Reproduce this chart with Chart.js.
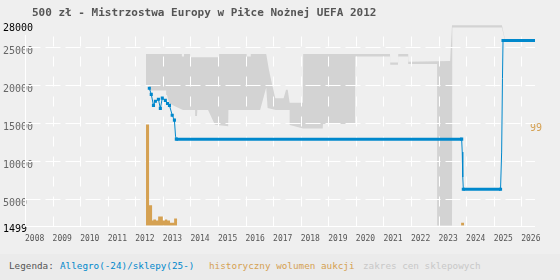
<!DOCTYPE html>
<html><head><meta charset="utf-8">
<script src="https://cdn.jsdelivr.net/npm/chart.js@4.4.1/dist/chart.umd.min.js"></script>
<style>
html,body{margin:0;padding:0;background:#efefef;width:560px;height:280px;overflow:hidden;}
#c{position:absolute;left:0;top:0;}
#title{position:absolute;left:32px;top:6px;font:bold 11px "DejaVu Sans Mono",monospace;color:#555;white-space:pre;}
#legend{position:absolute;left:0;top:254px;width:560px;height:26px;background:#ebebeb;font:9.3px "DejaVu Sans Mono",monospace;white-space:pre;}
#legend span{position:absolute;top:6px;}
</style></head><body>
<canvas id="c" width="560" height="280"></canvas>
<div id="title">500 zł - Mistrzostwa Europy w Piłce Nożnej UEFA 2012</div>
<div id="legend"><span style="left:9px;color:#555">Legenda:</span><span style="left:60px;color:#0088cc">Allegro(-24)/sklepy(25-)</span><span style="left:209px;color:#d5a152">historyczny wolumen aukcji</span><span style="left:363px;color:#c8c8c8">zakres cen sklepowych</span></div>
<script>
// ---- data ----
const xTickYears = [2008,2009,2010,2011,2012,2013,2014,2015,2016,2017,2018,2019,2020,2021,2022,2023,2024,2025,2026];
const yTicks = [1499,5000,10000,15000,20000,25000,28000];
const volumeTicks = [99];

const priceYears  = [2012.51,2012.58,2012.66,2012.73,2012.84,2012.91,2012.98,2013.09,2013.17,2013.24,2013.34,2013.42,2013.46,2013.49,2023.84,2023.86,2023.88,2023.90,2025.25,2025.29,2025.32,2025.34,2026.45];
const priceValues = [19600,18800,17350,17900,18150,16950,18300,18000,17600,17350,16050,15400,13300,12900,12900,11200,7900,6300,6300,11200,20900,25900,25900];

const volumeYears  = [2012.39,2012.50,2012.61,2012.655,2012.75,2012.83,2013.00,2013.08,2013.16,2013.26,2013.41,2013.515,2023.82,2023.93];
const volumeValues = [99,20,5,6,5,9,5,6,5,3,7,0,3,0];

const rangeMaxYears  = [2012.39,2013.69,2013.69,2013.77,2013.77,2013.99,2013.99,2015.04,2015.04,2016.04,2016.04,2016.19,2016.19,2016.75,2016.85,2016.97,2017.08,2017.38,2017.47,2017.53,2017.60,2018.08,2018.09,2021.24,2021.25,2021.53,2021.54,2021.90,2021.91,2023.42,2023.49,2025.30,2025.42];
const rangeMaxValues = [24100,24100,23800,23800,24100,24100,23700,23700,24100,24100,23800,23800,24100,24100,22000,20000,18300,18300,19400,19400,17700,17700,24100,24100,23000,23000,24100,24100,23100,23200,27900,27900,25900];
const rangeMinYears  = [2012.39,2012.50,2012.50,2013.12,2013.15,2013.20,2013.26,2013.40,2013.73,2014.17,2014.17,2014.24,2014.25,2014.64,2014.89,2015.37,2015.38,2016.53,2016.75,2016.80,2017.10,2017.60,2017.61,2017.98,2018.09,2018.80,2018.81,2019.97,2019.98,2021.24,2021.25,2021.53,2021.54,2021.90,2021.91,2022.95,2022.95,2023.49,2023.50,2025.30,2025.42];
const rangeMinValues = [19900,19900,19300,19300,18700,18000,17600,17300,16750,16750,15950,15950,16750,16750,14800,14600,16750,16750,19700,17000,16750,16750,14750,14400,14300,14300,14900,14900,23800,23800,22700,22700,23800,23800,22800,22800,1499,1499,27600,27600,25700];

// ---- build ----
const BLUE = '#0088cc', ORANGE = '#d5a152', GRAY = '#d3d3d3';
const pricePts = priceYears.map((x,i)=>({x, y: priceValues[i]}));
const volumePts = volumeYears.map((x,i)=>({x, y: volumeValues[i]}));
const rangeShape = rangeMaxYears.map((x,i)=>({x, y: rangeMaxValues[i]}))
  .concat(rangeMinYears.map((x,i)=>({x, y: rangeMinValues[i]})).reverse());

const MONO = '"DejaVu Sans Mono", monospace';

const gridPlugin = {
  id: 'dashGrid',
  afterDatasetDraw(chart, args) {
    if (args.index !== 2) return;
    const {ctx, chartArea: a, scales: {x, y}} = chart;
    const bottom = Math.round(y.getPixelForValue(1499)) + 0.5;
    const left = Math.round(x.getPixelForValue(2008)) + 0.5;
    const right = Math.round(a.right);
    ctx.save();
    ctx.strokeStyle = '#ffffff';
    ctx.lineWidth = 1;
    ctx.setLineDash([10,10]);
    x.ticks.forEach(t => {
      if (t.value === 2008) return;
      const px = Math.round(x.getPixelForValue(t.value)) + 0.5;
      ctx.beginPath(); ctx.moveTo(px, bottom); ctx.lineTo(px, 36); ctx.stroke();
    });
    ctx.setLineDash([15,5]);
    y.ticks.forEach(t => {
      if (t.value === 1499 || t.value === 28000) return;
      const py = Math.round(y.getPixelForValue(t.value)) + 0.5;
      ctx.beginPath(); ctx.moveTo(left, py); ctx.lineTo(right, py); ctx.stroke();
    });
    ctx.setLineDash([]);
    ctx.beginPath(); ctx.moveTo(left, 35); ctx.lineTo(left, bottom); ctx.lineTo(right, bottom); ctx.stroke();
    ctx.restore();
  }
};

new Chart(document.getElementById('c'), {
  type: 'line',
  data: {
    datasets: [
      {
        label: 'Allegro(-24)/sklepy(25-)', data: pricePts, yAxisID: 'y', order: 1,
        borderColor: BLUE, backgroundColor: BLUE, borderWidth: 1, fill: false,
        pointStyle: 'rect', pointBorderWidth: 0, pointBackgroundColor: BLUE,
        pointRadius: ctx => {
          const i = ctx.dataIndex, v = priceValues[i];
          return (i < 12 || v === priceValues[i-1] || v === priceValues[i+1]) ? 2.2 : 0;
        },
        segment: { borderWidth: ctx => ctx.p0.parsed.y === ctx.p1.parsed.y ? 3 : 1 }
      },
      {
        label: 'historyczny wolumen aukcji', data: volumePts, yAxisID: 'y2', order: 2,
        stepped: 'before', fill: 'origin', borderWidth: 0, pointRadius: 0,
        backgroundColor: ORANGE, borderColor: 'rgba(0,0,0,0)'
      },
      {
        label: 'zakres cen sklepowych', data: rangeShape, yAxisID: 'y', order: 3,
        fill: 'shape', borderWidth: 0, pointRadius: 0, tension: 0,
        backgroundColor: GRAY, borderColor: 'rgba(0,0,0,0)'
      }
    ]
  },
  options: {
    responsive: false, animation: false, events: [],
    layout: { padding: { left: 3, top: 24.5, right: 0, bottom: 34.3 } },
    plugins: { legend: { display: false }, tooltip: { enabled: false }, title: { display: false } },
    scales: {
      x: {
        type: 'linear', min: 2008, max: 2026.5, offset: false, z: 1,
        afterBuildTicks: s => { s.ticks = xTickYears.map(v => ({value: v})); },
        afterFit: s => { s.height = 20; },
        grid: { display: false, drawTicks: false }, border: { display: false },
        ticks: { align: 'start', padding: 8, autoSkip: false, maxRotation: 0, color: '#555',
          font: { family: MONO, size: 8 }, callback: v => String(v) }
      },
      y: {
        type: 'linear', position: 'left', min: 1499, max: 28000, z: 1,
        afterBuildTicks: s => { s.ticks = yTicks.map(v => ({value: v})); },
        afterFit: s => { s.width = 22; },
        grid: { display: false, drawTicks: false }, border: { display: false },
        ticks: { mirror: true, crossAlign: 'near', padding: -22, autoSkip: false,
          labelOffset: ctx => ctx.tick && ctx.tick.value === 1499 ? 3 : 4,
          color: ctx => (ctx.tick && (ctx.tick.value === 1499 || ctx.tick.value === 28000)) ? '#000' : '#666',
          font: { family: MONO, size: 10 }, callback: v => String(v) }
      },
      y2: {
        type: 'linear', position: 'right', min: 0, max: 197, z: 1,
        afterBuildTicks: s => { s.ticks = volumeTicks.map(v => ({value: v})); },
        afterFit: s => { s.width = 25; },
        grid: { display: false, drawTicks: false }, border: { display: false },
        ticks: { mirror: true, crossAlign: 'near', padding: 7, labelOffset: 4, color: ORANGE,
          font: { family: MONO, size: 10 }, callback: v => String(v) }
      }
    }
  },
  plugins: [gridPlugin]
});
</script>
</body></html>
